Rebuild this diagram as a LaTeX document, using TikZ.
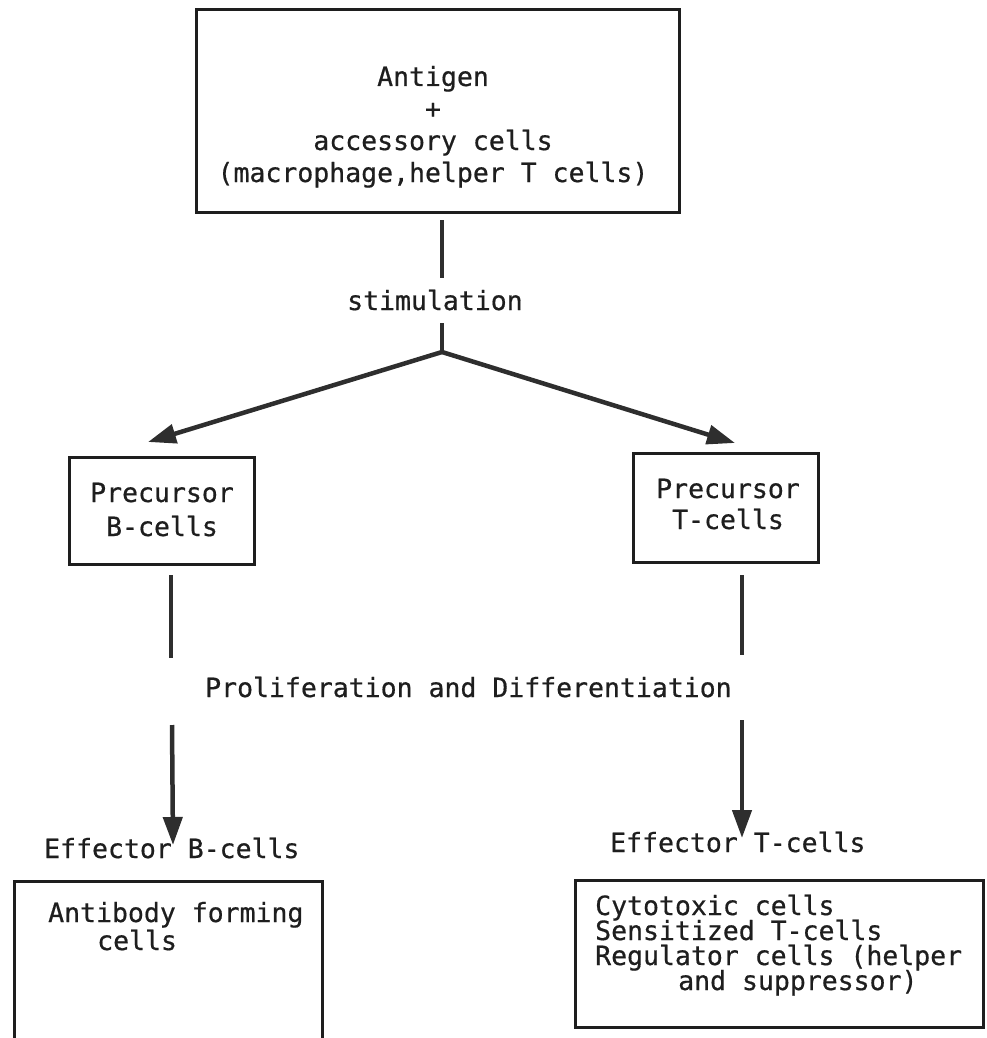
\documentclass[tikz,border=0pt]{standalone}
\usepackage{fontspec}
\setmonofont[FakeBold=0.6]{DejaVu Sans Mono}
\usetikzlibrary{arrows.meta}
\definecolor{ink}{HTML}{1E1E1E}
\definecolor{lineink}{HTML}{2E2E2E}
\tikzset{
  lbl/.style={font=\ttfamily\fontsize{26.5}{32}\selectfont, text=ink, inner sep=0pt, anchor=base west},
  lblc/.style={font=\ttfamily\fontsize{26.5}{32}\selectfont, text=ink, inner sep=0pt, anchor=base},
  boxline/.style={draw=ink, line width=3pt},
  boxnode/.style={boxline, inner sep=0pt},
  conn/.style={draw=lineink, line width=4.5pt},
  arr/.style={conn, -{Triangle[length=28pt,width=19pt]}},
}
\begin{document}
\begin{tikzpicture}[x=1pt,y=-1pt]
\useasboundingbox (0,0) rectangle (986,1038);
% top box
\node[boxnode, minimum width=483pt, minimum height=202pt] (top) at (437.5,111) {};
\node[lblc] (t1) at (433,86) {Antigen};
\node[lblc] (t2) at (433,118) {+};
\node[lblc] (t3) at (433,150) {accessory cells};
\node[lblc] (t4) at (433,182) {(macrophage,helper T cells)};
% stimulation
\coordinate (s1) at (442,220);
\coordinate (s2) at (442,278);
\node[lbl] (stim) at (347,310) {stimulation};
\coordinate (s3) at (442,323);
\coordinate (br) at (442,352);
\coordinate (tipB) at (148,442);
\coordinate (tipT) at (735,443);
\draw[conn] (s1) -- (s2);
\draw[conn] (s3) -- (br);
\draw[arr] (br) -- (tipB);
\draw[arr] (br) -- (tipT);
% precursor boxes
\node[boxnode, minimum width=185pt, minimum height=107pt] (pB) at (161.5,510.5) {};
\node[lblc] (pB1) at (162,502) {Precursor};
\node[lblc] (pB2) at (162,536) {B-cells};
\node[boxnode, minimum width=185pt, minimum height=109pt] (pT) at (725.5,507.5) {};
\node[lblc] (pT1) at (728,498) {Precursor};
\node[lblc] (pT2) at (728,529) {T-cells};
% proliferation
\coordinate (b1) at (171,575);
\coordinate (b2) at (171,658);
\coordinate (b3) at (172,725);
\coordinate (b4) at (173,845);
\coordinate (c1) at (742,575);
\coordinate (c2) at (742,655);
\coordinate (c3) at (742,720);
\coordinate (c4) at (742,838);
\draw[conn] (b1) -- (b2);
\draw[conn] (c1) -- (c2);
\node[lbl] (prol) at (205,697) {Proliferation and Differentiation};
\draw[arr] (b3) -- (b4);
\draw[arr] (c3) -- (c4);
\node[lbl] (effB) at (44,858) {Effector B-cells};
\node[lbl] (effT) at (610,852) {Effector T-cells};
% antibody box (open at bottom)
\node[minimum width=307pt, minimum height=170pt, inner sep=0pt] (aB) at (168.5,967) {};
\draw[boxline] (aB.south west) -- (aB.north west) -- (aB.north east) -- (aB.south east);
\node[lbl] (aB1) at (48,922) {Antibody forming};
\node[lbl] (aB2) at (97,950) {cells};
% effector T box
\node[boxnode, minimum width=408pt, minimum height=147pt] (eT) at (779,953.5) {};
\node[lbl] (eT1) at (595,915) {Cytotoxic cells};
\node[lbl] (eT2) at (595,940) {Sensitized T-cells};
\node[lbl] (eT3) at (595,965) {Regulator cells (helper};
\node[lbl] (eT4) at (678,990) {and suppressor)};
\end{tikzpicture}
\end{document}
